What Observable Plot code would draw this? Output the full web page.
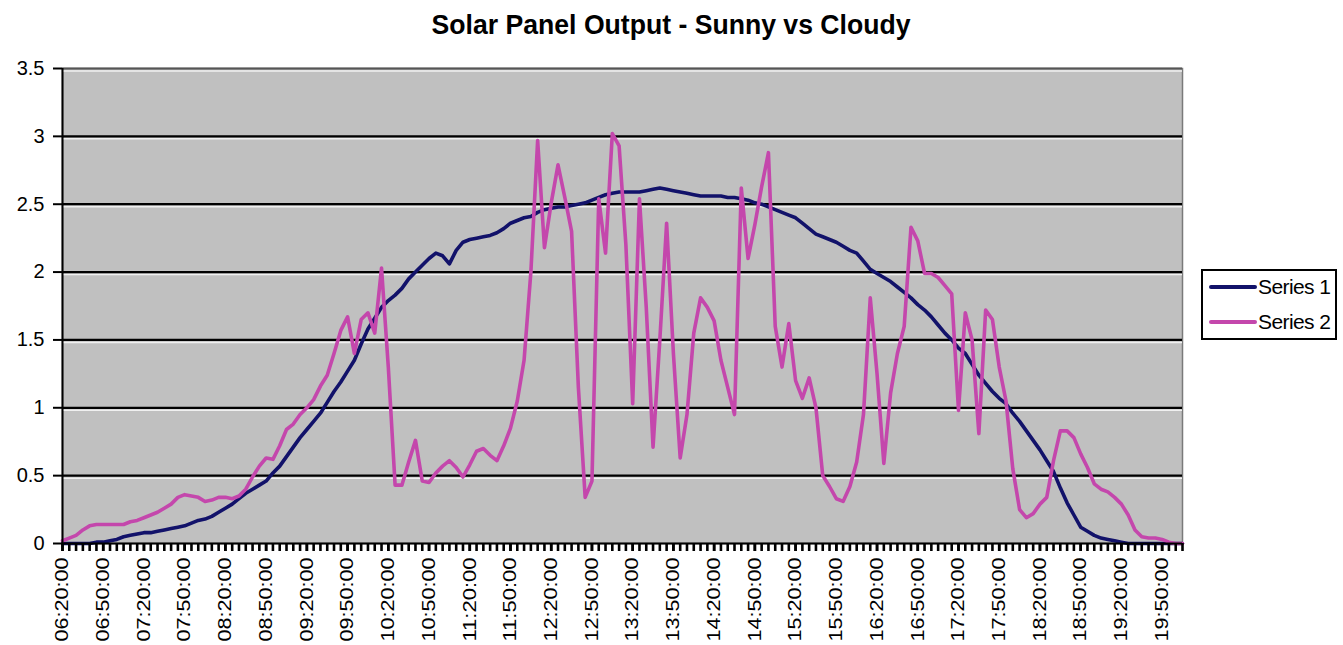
<!DOCTYPE html>
<html>
<head>
<meta charset="utf-8">
<script src="https://cdn.jsdelivr.net/npm/d3@7"></script>
<script src="https://cdn.jsdelivr.net/npm/@observablehq/plot@0.6"></script>
<style>
  body { margin: 0; background: #fff; font-family: "Liberation Sans", Arial, sans-serif; }
  #wrap { position: relative; width: 1343px; height: 645px; overflow: hidden; background: #fff; }
  #chart { position: absolute; left: 0; top: 0; }
  #title { position: absolute; left: 0; top: 11px; width: 1343px; text-align: center;
           font-weight: bold; font-size: 28px; line-height: 28px; color: #000; }
  #title span { display: inline-block; transform: scaleX(0.95); }
  #legend { position: absolute; left: 1201px; top: 269px; width: 132px; height: 67px;
            border: 2px solid #000; background: #fff; }
  .item { position: absolute; left: 0; height: 24px; width: 132px; }
  .sw { position: absolute; left: 6px; top: 10px; width: 48px; height: 4px; border-radius: 2px; }
  .lab { position: absolute; left: 55px; top: 0; font-size: 21px; line-height: 24px; letter-spacing: -0.6px; color: #000; white-space: nowrap; }
</style>
</head>
<body>
<div id="wrap">
  <div id="chart"></div>
  <div id="title"><span>Solar Panel Output - Sunny vs Cloudy</span></div>
  <div id="legend"></div>
</div>
<script>
// ---- data (5-minute readings from 06:20:00) ----
const startMinute = 6 * 60 + 20;
const stepMinutes = 5;

const series1 = [
  0,0,0,0,0,0.01,0.01,0.02,0.03,0.05,
  0.06,0.07,0.08,0.08,0.09,0.10,0.11,0.12,0.13,0.15,
  0.17,0.18,0.20,0.23,0.26,0.29,0.33,0.37,0.40,0.43,
  0.46,0.52,0.57,0.64,0.71,0.78,0.84,0.90,0.96,1.04,
  1.12,1.19,1.27,1.35,1.47,1.58,1.66,1.74,1.79,1.83,
  1.88,1.95,2.00,2.05,2.10,2.14,2.12,2.06,2.16,2.22,
  2.24,2.25,2.26,2.27,2.29,2.32,2.36,2.38,2.40,2.41,
  2.44,2.46,2.47,2.48,2.48,2.49,2.50,2.51,2.53,2.55,
  2.57,2.58,2.59,2.59,2.59,2.59,2.60,2.61,2.62,2.61,
  2.60,2.59,2.58,2.57,2.56,2.56,2.56,2.56,2.55,2.55,
  2.54,2.53,2.51,2.50,2.48,2.46,2.44,2.42,2.40,2.36,
  2.32,2.28,2.26,2.24,2.22,2.19,2.16,2.14,2.08,2.02,
  1.99,1.96,1.93,1.89,1.85,1.81,1.76,1.72,1.67,1.61,
  1.55,1.50,1.44,1.40,1.32,1.24,1.18,1.12,1.07,1.03,
  0.96,0.90,0.83,0.76,0.69,0.61,0.53,0.41,0.30,0.21,
  0.12,0.09,0.06,0.04,0.03,0.02,0.01,0,0,0,
  0,0,0,0,0,0
];

const series2 = [
  0.02,0.04,0.06,0.10,0.13,0.14,0.14,0.14,0.14,0.14,
  0.16,0.17,0.19,0.21,0.23,0.26,0.29,0.34,0.36,0.35,
  0.34,0.31,0.32,0.34,0.34,0.33,0.35,0.40,0.49,0.57,
  0.63,0.62,0.72,0.84,0.88,0.95,1.00,1.06,1.16,1.24,
  1.40,1.57,1.67,1.40,1.65,1.70,1.55,2.03,1.30,0.43,
  0.43,0.60,0.76,0.46,0.45,0.52,0.57,0.61,0.56,0.49,
  0.58,0.68,0.70,0.65,0.61,0.72,0.85,1.05,1.35,2.00,
  2.97,2.18,2.51,2.79,2.55,2.30,1.15,0.34,0.46,2.54,
  2.14,3.02,2.93,2.20,1.03,2.54,1.74,0.71,1.50,2.36,
  1.40,0.63,0.95,1.55,1.81,1.74,1.64,1.35,1.15,0.95,
  2.62,2.10,2.35,2.63,2.88,1.60,1.30,1.62,1.20,1.07,
  1.22,1.00,0.50,0.42,0.33,0.31,0.42,0.60,0.95,1.81,
  1.25,0.59,1.11,1.40,1.60,2.33,2.23,1.99,1.99,1.96,
  1.90,1.84,0.98,1.70,1.50,0.81,1.72,1.65,1.30,1.05,
  0.55,0.25,0.19,0.22,0.29,0.34,0.61,0.83,0.83,0.78,
  0.66,0.56,0.44,0.40,0.38,0.34,0.29,0.21,0.10,0.05,
  0.04,0.04,0.03,0.01,0,0
];

const seriesNames = ["Series 1", "Series 2"];
const seriesColors = ["#12126a", "#c447ac"];

const tickLabels = [
  "06:20:00","06:50:00","07:20:00","07:50:00","08:20:00","08:50:00","09:20:00",
  "09:50:00","10:20:00","10:50:00","11:20:00","11:50:00","12:20:00","12:50:00",
  "13:20:00","13:50:00","14:20:00","14:50:00","15:20:00","15:50:00","16:20:00",
  "16:50:00","17:20:00","17:50:00","18:20:00","18:50:00","19:20:00","19:50:00"
];

const yTicks = [0, 0.5, 1, 1.5, 2, 2.5, 3, 3.5];

// ---- build table ----
const pad = n => String(n).padStart(2, "0");
const times = series1.map((_, i) => {
  const m = startMinute + i * stepMinutes;
  return `${pad(Math.floor(m / 60))}:${pad(m % 60)}:00`;
});
const rows = series1.map((v, i) => ({i, time: times[i], s1: v, s2: series2[i]}));
const n = rows.length;
const minorTicks = d3.range(0, n);
const labelTicks = tickLabels.map(l => times.indexOf(l));

const chart = Plot.plot({
  width: 1343,
  height: 645,
  marginTop: 68,
  marginBottom: 102,
  marginLeft: 62,
  marginRight: 161,
  x: {type: "linear", domain: [0, n - 1], label: null},
  y: {domain: [0, 3.5], label: null},
  style: {fontFamily: "'Liberation Sans', Arial, sans-serif", background: "transparent", color: "#000"},
  marks: [
    Plot.frame({fill: "#c0c0c0"}),
    Plot.frame({stroke: "#7a7a7a", strokeWidth: 1.5}),
    Plot.ruleY(yTicks.slice(1), {stroke: "#f0f0f0", strokeWidth: 1.5, dy: 2.5}),
    Plot.ruleY(yTicks.slice(1, -1), {stroke: "#000", strokeWidth: 2.2}),
    Plot.ruleY(yTicks.slice(-1), {stroke: "#555", strokeWidth: 2}),
    Plot.line(rows, {x: "i", y: "s1", stroke: seriesColors[0], strokeWidth: 3.6}),
    Plot.line(rows, {x: "i", y: "s2", stroke: seriesColors[1], strokeWidth: 3.6}),
    // minor category ticks hanging below the x axis
    Plot.ruleX(minorTicks, {x: d => d, y1: 0, y2: 0, insetBottom: -8, stroke: "#000", strokeWidth: 2.6}),
    Plot.ruleX([0], {stroke: "#000", strokeWidth: 2}),
    Plot.ruleY([0], {stroke: "#000", strokeWidth: 2}),
    Plot.axisY({ticks: yTicks, tickSize: 9, tickPadding: 9, fontSize: 20, strokeWidth: 2,
                tickFormat: d => String(d), label: null}),
    Plot.axisX({ticks: labelTicks, tickSize: 8, tickPadding: 6, tickRotate: -90, fontSize: 18,
                tickFormat: i => times[i], strokeWidth: 2.6, label: null})
  ]
});

// stretch rotated x tick labels to match the tall glyphs of the original
chart.querySelectorAll('g[aria-label="x-axis tick label"] text').forEach(t => {
  if (t.textContent) {
    t.setAttribute("textLength", 84);
    t.setAttribute("lengthAdjust", "spacingAndGlyphs");
  }
});

document.getElementById("chart").appendChild(chart);

// legend
const legend = document.getElementById("legend");
seriesNames.forEach((name, k) => {
  const item = document.createElement("div");
  item.className = "item";
  item.style.top = (k === 0 ? 4 : 39) + "px";
  const sw = document.createElement("div");
  sw.className = "sw";
  sw.style.background = seriesColors[k];
  const lab = document.createElement("div");
  lab.className = "lab";
  lab.textContent = name;
  item.appendChild(sw);
  item.appendChild(lab);
  legend.appendChild(item);
});
</script>
</body>
</html>
